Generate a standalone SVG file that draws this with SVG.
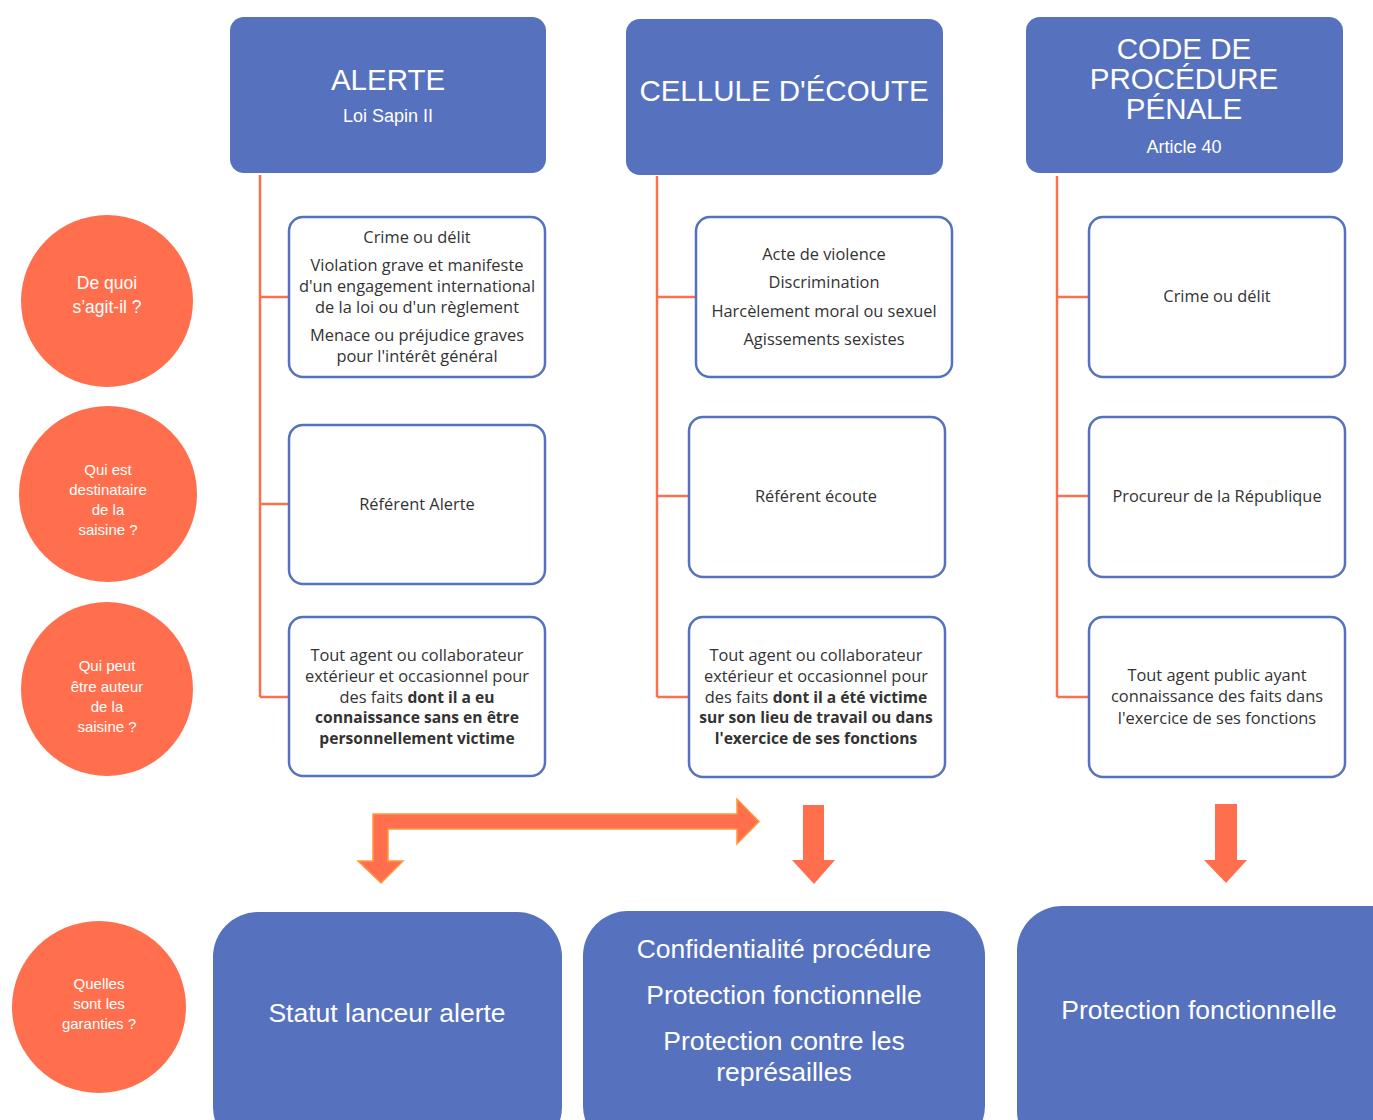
<svg xmlns="http://www.w3.org/2000/svg" width="1373" height="1120" viewBox="0 0 1373 1120">
<style>
.hdr{fill:#5671BD}
.box{fill:#fff;stroke:#5671BD;stroke-width:2.5}
.q{fill:#FF6F4D}
.ln{stroke:#FF6F4D;stroke-width:2.5;fill:none}
.ar{fill:#FF6F4D}
.ht{font-family:"Liberation Sans",Arial,sans-serif;fill:#fff;text-anchor:middle}
.qt{font-family:"Liberation Sans",Arial,sans-serif;fill:#fff;text-anchor:middle;font-size:15px}
.qt.lg{font-size:17.5px}
.bt{font-family:"Open Sans","Noto Sans",sans-serif;fill:#333;text-anchor:middle;font-size:16.4px}
.b{font-weight:bold;font-size:15.6px}
</style>
<rect width="1373" height="1120" fill="#fff"/>
<g id="connectors">
<path class="ln" d="M260 175V697M260 297H289M260 504H289M260 697H289"/>
<path class="ln" d="M657 176V697M657 297H696M657 496H689M657 697H689"/>
<path class="ln" d="M1057 176V697M1057 297H1089M1057 496H1089M1057 697H1089"/>
<path d="M373 814H737V799L759 821.5L737 844V829H388V861H403L381 883L358 861H373Z" fill="#FF6F4D" stroke="#FF9A3C" stroke-width="1.5"/>
<path class="ar" d="M803 805H824V860H835L814 884L792 860H803Z"/>
<path class="ar" d="M1215 804H1237V860H1247L1226 883L1204 860H1215Z"/>
</g>
<g id="h1"><rect class="hdr" x="230" y="17" width="316" height="156" rx="14"/>
<text class="ht" x="388" y="90" font-size="29.5">ALERTE</text>
<text class="ht" x="388" y="122" font-size="18">Loi Sapin II</text></g>
<g id="h2"><rect class="hdr" x="626" y="19" width="317" height="156" rx="14"/>
<text class="ht" x="784" y="101" font-size="29.5">CELLULE D'ÉCOUTE</text></g>
<g id="h3"><rect class="hdr" x="1026" y="17" width="317" height="156" rx="14"/>
<text class="ht" x="1184" y="59" font-size="29.5">CODE DE</text>
<text class="ht" x="1184" y="89" font-size="29.5">PROCÉDURE</text>
<text class="ht" x="1184" y="119" font-size="29.5">PÉNALE</text>
<text class="ht" x="1184" y="153" font-size="18">Article 40</text></g>
<g id="q1"><ellipse class="q" cx="107" cy="301" rx="86" ry="86"/>
<text class="qt lg" x="107" y="289">De quoi</text>
<text class="qt lg" x="107" y="313">s’agit-il ?</text></g>
<g id="q2"><ellipse class="q" cx="108" cy="494" rx="89" ry="88"/>
<text class="qt" x="108" y="475">Qui est</text>
<text class="qt" x="108" y="495">destinataire</text>
<text class="qt" x="108" y="515">de la</text>
<text class="qt" x="108" y="535">saisine ?</text></g>
<g id="q3"><ellipse class="q" cx="107" cy="689" rx="86" ry="87"/>
<text class="qt" x="107" y="671">Qui peut</text>
<text class="qt" x="107" y="692">être auteur</text>
<text class="qt" x="107" y="712">de la</text>
<text class="qt" x="107" y="732">saisine ?</text></g>
<g id="q4"><ellipse class="q" cx="99" cy="1007" rx="87" ry="86"/>
<text class="qt" x="99" y="989">Quelles</text>
<text class="qt" x="99" y="1009">sont les</text>
<text class="qt" x="99" y="1029">garanties ?</text></g>
<g id="c1b1"><rect class="box" x="289" y="217" width="256" height="160" rx="14"/>
<text class="bt" x="417" y="243">Crime ou délit</text>
<text class="bt" x="417" y="271">Violation grave et manifeste</text>
<text class="bt" x="417" y="292">d'un engagement international</text>
<text class="bt" x="417" y="313">de la loi ou d'un règlement</text>
<text class="bt" x="417" y="341">Menace ou préjudice graves</text>
<text class="bt" x="417" y="362">pour l'intérêt général</text></g>
<g id="c1b2"><rect class="box" x="289" y="425" width="256" height="159" rx="14"/>
<text class="bt" x="417" y="510">Référent Alerte</text></g>
<g id="c1b3"><rect class="box" x="289" y="617" width="256" height="159" rx="14"/>
<text class="bt" x="417" y="661">Tout agent ou collaborateur</text>
<text class="bt" x="417" y="682">extérieur et occasionnel pour</text>
<text class="bt" x="417" y="703">des faits <tspan class="b">dont il a eu</tspan></text>
<text class="bt b" x="417" y="723">connaissance sans en être</text>
<text class="bt b" x="417" y="744">personnellement victime</text></g>
<g id="c2b1"><rect class="box" x="696" y="217" width="256" height="160" rx="14"/>
<text class="bt" x="824" y="260">Acte de violence</text>
<text class="bt" x="824" y="288">Discrimination</text>
<text class="bt" x="824" y="317">Harcèlement moral ou sexuel</text>
<text class="bt" x="824" y="345">Agissements sexistes</text></g>
<g id="c2b2"><rect class="box" x="689" y="417" width="256" height="160" rx="14"/>
<text class="bt" x="816" y="502">Référent écoute</text></g>
<g id="c2b3"><rect class="box" x="689" y="617" width="256" height="160" rx="14"/>
<text class="bt" x="816" y="661">Tout agent ou collaborateur</text>
<text class="bt" x="816" y="682">extérieur et occasionnel pour</text>
<text class="bt" x="816" y="703">des faits <tspan class="b">dont il a été victime</tspan></text>
<text class="bt b" x="816" y="723">sur son lieu de travail ou dans</text>
<text class="bt b" x="816" y="744">l'exercice de ses fonctions</text></g>
<g id="c3b1"><rect class="box" x="1089" y="217" width="256" height="160" rx="14"/>
<text class="bt" x="1217" y="302">Crime ou délit</text></g>
<g id="c3b2"><rect class="box" x="1089" y="417" width="256" height="160" rx="14"/>
<text class="bt" x="1217" y="502">Procureur de la République</text></g>
<g id="c3b3"><rect class="box" x="1089" y="617" width="256" height="160" rx="14"/>
<text class="bt" x="1217" y="681">Tout agent public ayant</text>
<text class="bt" x="1217" y="702">connaissance des faits dans</text>
<text class="bt" x="1217" y="724">l'exercice de ses fonctions</text></g>
<g id="g1"><rect class="hdr" x="213" y="912" width="349" height="240" rx="45"/>
<text class="ht" x="387" y="1022" font-size="26.5">Statut lanceur alerte</text></g>
<g id="g2"><rect class="hdr" x="583" y="911" width="402" height="240" rx="45"/>
<text class="ht" x="784" y="958" font-size="26.5">Confidentialité procédure</text>
<text class="ht" x="784" y="1004" font-size="26.5">Protection fonctionnelle</text>
<text class="ht" x="784" y="1050" font-size="26.5">Protection contre les</text>
<text class="ht" x="784" y="1081" font-size="26.5">représailles</text></g>
<g id="g3"><rect class="hdr" x="1017" y="906" width="400" height="250" rx="45"/>
<text class="ht" x="1199" y="1019" font-size="26.5">Protection fonctionnelle</text></g>
</svg>
